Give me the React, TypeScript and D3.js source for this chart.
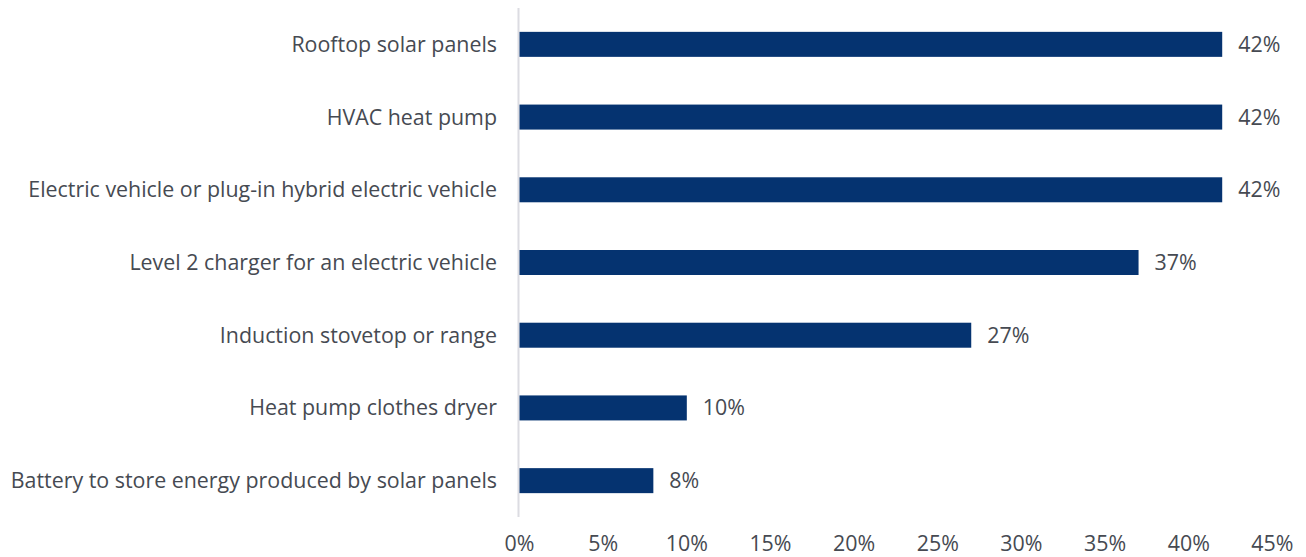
import React from "react";
import * as d3 from "d3";

const categories = [
  "Rooftop solar panels",
  "HVAC heat pump",
  "Electric vehicle or plug-in hybrid electric vehicle",
  "Level 2 charger for an electric vehicle",
  "Induction stovetop or range",
  "Heat pump clothes dryer",
  "Battery to store energy produced by solar panels",
];
const values = [42, 42, 42, 37, 27, 10, 8];
const tickValues = [0, 5, 10, 15, 20, 25, 30, 35, 40, 45];

const W = 1306;
const H = 557;
const FONT = "'Open Sans', Arial, sans-serif";
const TEXT = "#464a52";
const FS = 21.4;

export default function App() {
  const x = d3.scaleLinear().domain([0, 45]).range([519.5, 1272.4]);
  const y = d3.scaleBand<string>().domain(categories).range([8, 517]).padding(0);
  const barH = 25;
  return (
    <svg width={W} height={H} style={{ position: "absolute", left: 0, top: 0 }}>
      <rect width={W} height={H} fill="#fff" />
      <line x1={518.5} x2={518.5} y1={8} y2={517} stroke="#dcdce2" strokeWidth={2} />
      {categories.map((c, i) => {
        const cy = (y(c) ?? 0) + y.bandwidth() / 2;
        return (
          <g key={c}>
            <rect x={x(0)} y={cy - barH / 2} width={x(values[i]) - x(0)} height={barH} fill="#053370" />
            <text x={497} y={cy} dy="0.35em" textAnchor="end" fontFamily={FONT} fontSize={FS} fill={TEXT}>
              {c}
            </text>
            <text x={x(values[i]) + 16} y={cy} dy="0.35em" fontFamily={FONT} fontSize={FS} fill={TEXT}>
              {values[i]}%
            </text>
          </g>
        );
      })}
      {tickValues.map((t) => (
        <text key={t} x={x(t)} y={551} textAnchor="middle" fontFamily={FONT} fontSize={FS} fill={TEXT}>
          {t}%
        </text>
      ))}
    </svg>
  );
}
